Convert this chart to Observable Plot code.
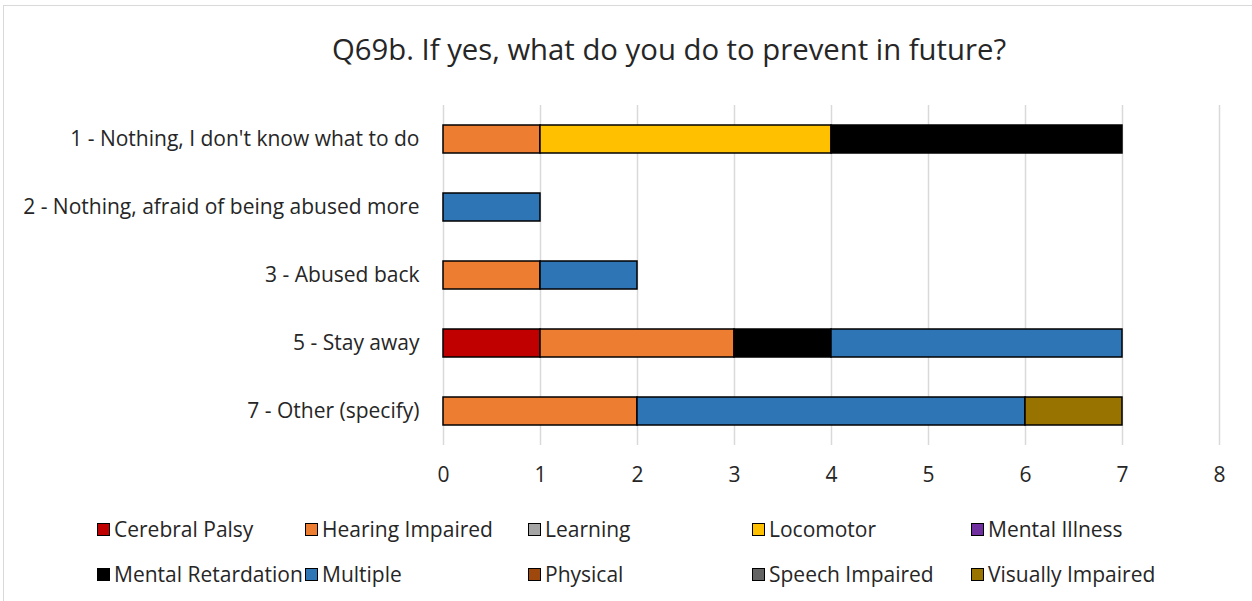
<!DOCTYPE html>
<html>
<head>
<meta charset="utf-8">
<script src="https://cdn.jsdelivr.net/npm/d3@7"></script>
<script src="https://cdn.jsdelivr.net/npm/@observablehq/plot@0.6"></script>
<style>
  html, body { margin: 0; padding: 0; background: #fff; }
  body { width: 1252px; height: 601px; position: relative; overflow: hidden; font-family: "Open Sans", sans-serif; }
  #frame { position: absolute; left: 3px; top: 5px; width: 1260px; height: 620px; border-left: 1.5px solid #d9d9d9; border-top: 1.5px solid #d9d9d9; z-index: 5; pointer-events: none; }
  #title { position: absolute; left: 43px; top: 29px; width: 1252px; text-align: center; font-size: 29.3px; color: #262626; }
  #chart { position: absolute; left: 0; top: 80px; }
  .leg { position: absolute; font-size: 21px; color: #262626; display: flex; align-items: center; white-space: nowrap; }
  .sw { width: 11px; height: 11px; border: 1.5px solid #000; margin-right: 4px; }
</style>
</head>
<body>
<div id="title">Q69b. If yes, what do you do to prevent in future?</div>
<div id="chart"></div>
<div id="legend"></div>
<div id="frame"></div>
<script>
const categories = [
  "1 - Nothing, I don't know what to do",
  "2 - Nothing, afraid of being abused more",
  "3 - Abused back",
  "5 - Stay away",
  "7 - Other (specify)"
];
const seriesNames = ["Cerebral Palsy", "Hearing Impaired", "Learning", "Locomotor", "Mental Illness",
  "Mental Retardation", "Multiple", "Physical", "Speech Impaired", "Visually Impaired"];
const seriesColors = ["#C00000", "#ED7D31", "#A5A5A5", "#FFC000", "#7030A0",
  "#000000", "#2E75B6", "#9E480E", "#636363", "#997300"];
// values per series, in category order
const cerebralPalsy     = [0, 0, 0, 1, 0];
const hearingImpaired   = [1, 0, 1, 2, 2];
const learning          = [0, 0, 0, 0, 0];
const locomotor         = [3, 0, 0, 0, 0];
const mentalIllness     = [0, 0, 0, 0, 0];
const mentalRetardation = [3, 0, 0, 1, 0];
const multiple          = [0, 1, 1, 3, 4];
const physical          = [0, 0, 0, 0, 0];
const speechImpaired    = [0, 0, 0, 0, 0];
const visuallyImpaired  = [0, 0, 0, 0, 1];
const xTicks = [0, 1, 2, 3, 4, 5, 6, 7, 8];

const seriesValues = [cerebralPalsy, hearingImpaired, learning, locomotor, mentalIllness,
  mentalRetardation, multiple, physical, speechImpaired, visuallyImpaired];

const rows = [];
seriesNames.forEach((s, si) => {
  categories.forEach((c, ci) => {
    const v = seriesValues[si][ci];
    if (v > 0) rows.push({category: c, series: s, value: v});
  });
});

const chart = Plot.plot({
  width: 1252,
  height: 410,
  marginLeft: 443,
  marginRight: 33,
  marginTop: 25,
  marginBottom: 45,
  style: {fontFamily: "Open Sans, sans-serif", fontSize: "21px", color: "#262626", background: "transparent"},
  x: {domain: [0, 8], ticks: xTicks, label: null, tickSize: 0, tickPadding: 22},
  y: {domain: categories, label: null, tickSize: 0, tickPadding: 24, padding: 0.59, paddingOuter: 0.295},
  color: {domain: seriesNames, range: seriesColors},
  marks: [
    Plot.ruleX(xTicks, {stroke: "#d9d9d9", strokeWidth: 1.5}),
    Plot.barX(rows, Plot.stackX({
      x: "value", y: "category", fill: "series", order: seriesNames,
      stroke: "#000", strokeWidth: 1.5
    }))
  ]
});
document.getElementById("chart").appendChild(chart);

const legend = document.getElementById("legend");
const colX = [97, 305, 528, 752, 971];
const rowY = [530, 575];
seriesNames.forEach((s, i) => {
  const d = document.createElement("div");
  d.className = "leg";
  d.style.left = colX[i % 5] + "px";
  d.style.top = (rowY[Math.floor(i / 5)] - 15) + "px";
  const sw = document.createElement("div");
  sw.className = "sw";
  sw.style.background = seriesColors[i];
  d.appendChild(sw);
  const t = document.createElement("span");
  t.textContent = s;
  d.appendChild(t);
  legend.appendChild(d);
});
</script>
</body>
</html>
